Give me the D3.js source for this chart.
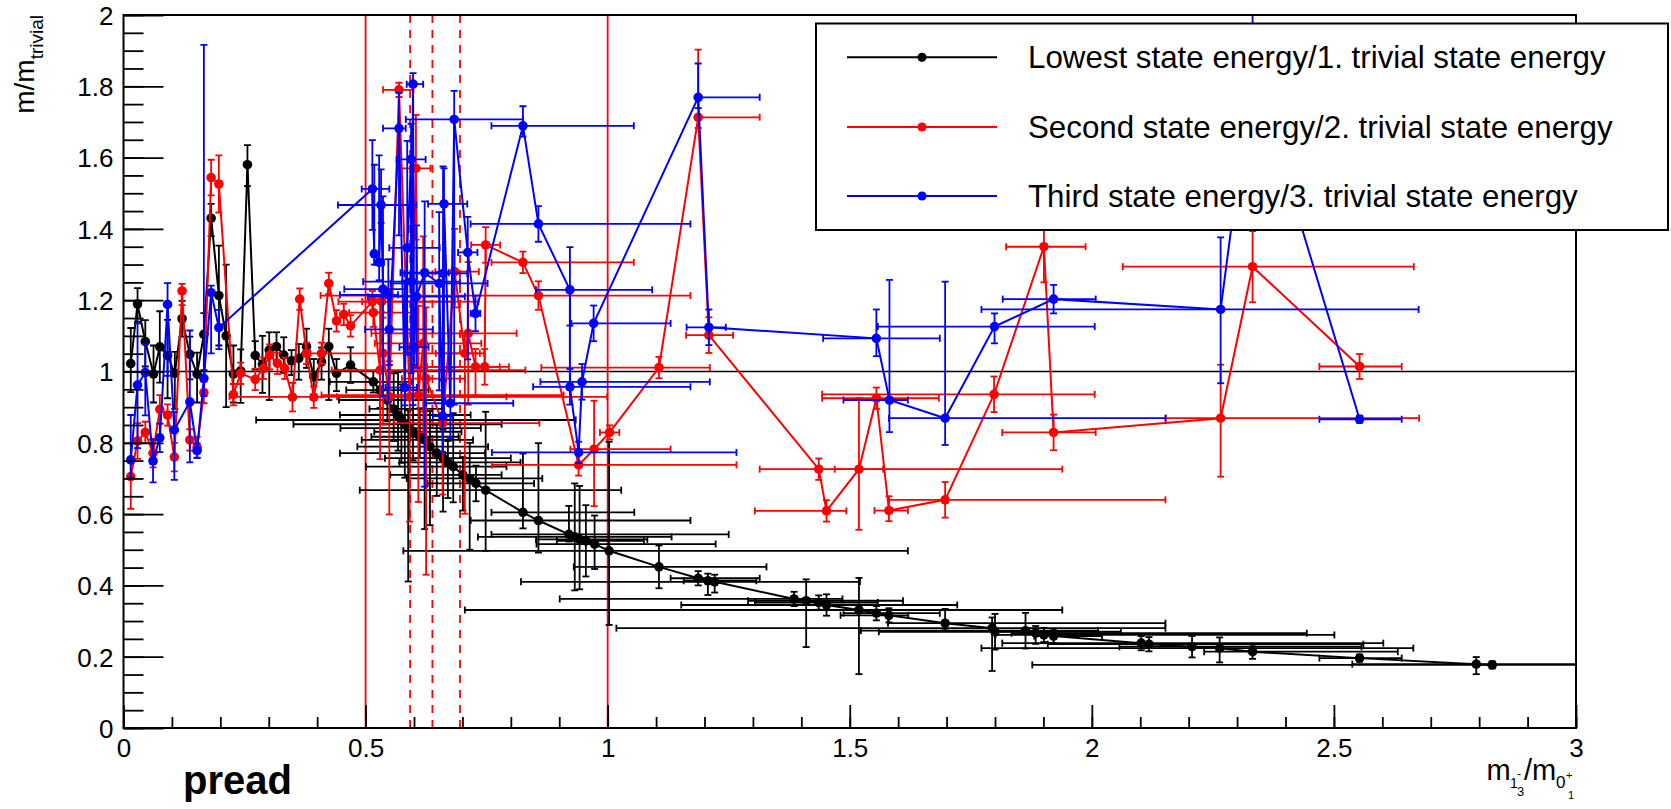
<!DOCTYPE html>
<html><head><meta charset="utf-8">
<script src="https://cdn.jsdelivr.net/npm/d3@7"></script>
<style>body{margin:0;background:#fff} svg{display:block} text{font-family:"Liberation Sans",Arial,Helvetica,sans-serif}</style>
</head><body><svg id="c" width="1671" height="809"></svg>
<script>
// [x, y, exLow, exHigh, eyLow, eyHigh]
const lowestPts = [
[0.015,1.022,0,0,0.08,0.10],[0.029,1.189,0,0,0.05,0.045],[0.045,1.084,0,0,0.07,0.06],[0.062,0.993,0,0,0.08,0.08],
[0.075,1.069,0,0,0.1,0.1],[0.091,1.045,0,0,0.12,0.1],[0.106,0.995,0,0,0.1,0.06],[0.121,1.148,0,0,0.05,0.05],
[0.137,1.048,0,0,0.07,0.05],[0.152,0.993,0,0,0.08,0.06],[0.166,1.104,0,0,0.1,0.06],[0.181,1.43,0,0,0.05,0.04],
[0.197,1.213,0,0,0.14,0.14],[0.212,1.1,0,0,0.2,0.2],[0.227,0.993,0,0,0.08,0.08],[0.242,1.002,0,0,0.09,0.06],
[0.256,1.58,0,0,0.06,0.055],[0.272,1.045,0,0,0.04,0.04],[0.287,1.02,0,0,0.08,0.08],[0.301,1.06,0,0,0.14,0.05],
[0.316,1.07,0,0,0.04,0.04],[0.331,1.046,0,0,0.05,0.05],[0.347,1.03,0,0,0.04,0.03],[0.362,1.037,0,0,0.06,0.04],
[0.378,1.07,0,0,0.06,0.05],[0.393,0.985,0,0,0.05,0.05],[0.409,1.027,0,0,0.05,0.04],[0.424,1.07,0,0,0.15,0.05],
[0.44,0.995,0,0,0.05,0.04],[0.469,1.018,0,0,0.05,0.05],
[0.516,0.971,0.09,0.08,0.03,0.03],[0.530,0.948,0.07,0.1,0.05,0.05],[0.545,0.92,0.10,0.12,0.06,0.05],
[0.558,0.895,0.05,0.1,0.09,0.1],[0.567,0.878,0.12,0.15,0.1,0.12],[0.574,0.864,0.30,0.36,0.12,0.1],
[0.581,0.852,0.23,0.2,0.15,0.1],[0.588,0.841,0.14,0.15,0.43,0.05],[0.598,0.831,0.08,0.1,0.08,0.1],
[0.612,0.817,0.1,0.08,0.06,0.08],[0.622,0.808,0.13,0.1,0.25,0.08],[0.633,0.789,0.15,0.12,0.22,0.1],
[0.647,0.771,0.2,0.1,0.12,0.08],[0.66,0.757,0.12,0.14,0.15,0.08],[0.67,0.745,0.1,0.15,0.1,0.06],
[0.681,0.733,0.18,0.11,0.1,0.15],[0.701,0.71,0.15,0.08,0.1,0.05],[0.715,0.70,0.13,0.15,0.2,0.1],
[0.728,0.686,0.1,0.12,0.05,0.05],[0.748,0.667,0.26,0.28,0.17,0.22],[0.825,0.605,0.065,0.23,0.045,0.165],
[0.857,0.582,0.14,0.314,0.09,0.217],[0.92,0.543,0.16,0.33,0.02,0.08],[0.932,0.536,0.2,0.2,0.15,0.15],
[0.942,0.529,0.09,0.14,0.14,0.15],[0.955,0.525,0.06,0.12,0.1,0.1],[0.973,0.516,0.12,0.25,0.07,0.08],
[1.003,0.497,0.425,0.617,0.208,0.306],[1.106,0.452,0.176,0.222,0.06,0.06],[1.187,0.42,0.057,0.127,0.02,0.02],
[1.207,0.413,0.05,0.1,0.04,0.02],[1.221,0.41,0.4,0.3,0.03,0.02],[1.385,0.362,0.484,0.1,0.02,0.02],
[1.41,0.357,0.12,0.2,0.13,0.06],[1.436,0.352,0.132,0.122,0.02,0.02],[1.452,0.345,0.3,0.27,0.03,0.03],
[1.519,0.331,0.814,0.42,0.18,0.09],[1.555,0.322,0.068,0.131,0.02,0.02],[1.581,0.316,0.1,0.04,0.02,0.02],
[1.697,0.294,0.118,0.455,0.02,0.04],[1.794,0.28,0.776,0.358,0.12,0.03],[1.80,0.27,0.24,0.26,0.05,0.05],
[1.863,0.273,0.34,0.15,0.05,0.05],[1.884,0.266,0.05,0.56,0.03,0.02],[1.901,0.261,0.1,0.6,0.02,0.02],
[1.921,0.258,0.04,0.1,0.02,0.02],[2.102,0.238,0.287,0.5,0.02,0.02],[2.118,0.235,0.209,0.443,0.02,0.02],
[2.207,0.228,0.15,0.35,0.03,0.03],[2.264,0.224,0.492,0.4,0.04,0.03],[2.332,0.214,0.1,0.3,0.02,0.02],
[2.553,0.196,0.083,0.087,0.01,0.01],[2.794,0.179,0.256,0.4,0.028,0.02],[2.827,0.177,0.95,0.4,0.01,0.01]
];
const secondPts = [
[0.015,0.705,0,0,0.09,0.042],[0.029,0.805,0,0,0.05,0.05],[0.045,0.829,0,0,0.03,0.03],[0.061,0.771,0,0,0.04,0.04],
[0.075,0.894,0,0,0.04,0.04],[0.091,0.878,0,0,0.03,0.03],[0.105,0.76,0,0,0.04,0.04],[0.121,1.226,0,0,0.04,0.02],
[0.137,0.808,0,0,0.03,0.03],[0.152,0.787,0,0,0.03,0.03],[0.166,0.941,0,0,0.03,0.03],[0.181,1.544,0,0,0.05,0.05],
[0.197,1.526,0,0,0.08,0.08],[0.227,0.935,0,0,0.03,0.03],[0.242,0.995,0,0,0.03,0.03],[0.272,0.978,0,0,0.03,0.03],
[0.289,1.009,0,0,0.03,0.03],[0.302,1.046,0,0,0.04,0.03],[0.318,1.023,0,0,0.03,0.03],[0.333,1.009,0,0,0.03,0.03],
[0.349,0.928,0,0,0.04,0.04],[0.364,1.203,0,0,0.03,0.03],[0.378,1.051,0,0,0.03,0.03],[0.393,0.928,0,0,0.03,0.03],
[0.409,1.051,0,0,0.03,0.03],[0.424,1.247,0,0,0.03,0.03],[0.44,1.142,0,0,0.03,0.03],[0.455,1.16,0,0,0.03,0.03],
[0.469,1.128,0,0,0.03,0.03],
[0.514,1.196,0.07,0.17,0.03,0.03],[0.516,1.165,0.05,0.08,0.04,0.04],[0.530,1.004,0.1,0.3,0.25,0.2],
[0.533,1.196,0.04,0.2,0.03,0.03],[0.536,1.051,0.15,0.2,0.2,0.1],[0.549,0.929,0.33,0.45,0.33,0.1],
[0.569,1.79,0.033,0.03,0.02,0.02],[0.591,0.929,0.15,0.2,0.35,0.15],[0.604,1.57,0.03,0.03,0.2,0.15],
[0.609,0.934,0.2,0.3,0.3,0.25],[0.619,1.079,0.1,0.12,0.25,0.3],[0.625,0.98,0.05,0.08,0.55,0.2],
[0.659,0.855,0.1,0.2,0.2,0.15],[0.684,1.28,0.04,0.05,0.1,0.12],[0.705,1.051,0.06,0.04,0.45,0.05],
[0.712,1.107,0.2,0.1,0.2,0.2],[0.727,1.013,0.1,0.05,0.08,0.05],[0.746,1.013,0.15,0.05,0.05,0.05],
[0.748,1.355,0.03,0.03,0.05,0.05],[0.825,1.306,0.065,0.229,0.03,0.03],[0.857,1.213,0.45,0.314,0.04,0.04],
[0.94,0.738,0.179,0.326,0.03,0.03],[0.972,0.782,0.049,0.158,0.16,0.136],[1.004,0.829,0.02,0.02,0.02,0.02],
[1.106,1.011,0.243,0.105,0.03,0.03],[1.187,1.713,0,0.127,0.03,0.19],[1.209,1.102,0.047,0.05,0.05,0.05],
[1.436,0.726,0.122,0.503,0.03,0.03],[1.452,0.609,0.148,0.041,0.03,0.03],[1.519,0.726,0.05,0.05,0.17,0.2],
[1.555,0.925,0.112,0.129,0.03,0.03],[1.581,0.61,0.03,0.039,0.03,0.04],[1.697,0.64,0.116,0.455,0.05,0.05],
[1.798,0.936,0.355,0.208,0.05,0.05],[1.901,1.35,0.078,0.086,0.1,0.1],[1.921,0.829,0.106,0.087,0.05,0.05],
[2.266,0.869,0.113,0.41,0.164,0.15],[2.332,1.294,0.268,0.333,0.1,0.1],[2.553,1.014,0.083,0.087,0.035,0.035]
];
const thirdPts = [
[0.015,0.752,0,0,0.05,0.126],[0.029,0.962,0,0,0.177,0.173],[0.045,0.997,0,0,0.12,0.08],[0.061,0.749,0,0,0.06,0.06],
[0.075,0.814,0,0,0.04,0.04],[0.091,1.188,0,0,0.2,0.06],[0.105,0.836,0,0,0.14,0.05],[0.137,0.915,0,0,0.17,0.2],
[0.152,0.778,0,0,0.02,0.02],[0.166,0.981,0,0,0.05,0.935],[0.181,1.221,0,0,0.17,0.02],[0.197,1.123,0,0,0.06,0.05],
[0.514,1.512,0.022,0.035,0.115,0.137],[0.518,1.33,0,0,0.03,0.25],[0.528,1.306,0.01,0.01,0.05,0.3],
[0.532,1.467,0.089,0.073,0.05,0.1],[0.536,1.231,0.08,0.05,0.3,0.26],[0.547,1.215,0.1,0.02,0.3,0.1],
[0.549,1.118,0.05,0.09,0.1,0.1],[0.569,1.682,0.033,0.014,0.3,0.1],[0.581,0.955,0.04,0.025,0.05,0.3],
[0.586,1.347,0.037,0.067,0.3,0.3],[0.594,1.595,0.03,0.03,0.6,0.1],[0.595,1.252,0.1,0.1,0.2,0.2],
[0.598,1.806,0.013,0.021,0.9,0.031],[0.600,1.068,0.03,0.03,0.05,0.05],[0.605,1.21,0.1,0.1,0.2,0.2],
[0.622,1.277,0.05,0.05,0.6,0.2],[0.652,1.247,0.1,0.1,0.3,0.2],[0.659,0.875,0.02,0.02,0.1,0.1],
[0.660,1.275,0.08,0.05,0.3,0.3],[0.662,1.47,0.033,0.048,0.6,0.1],[0.675,0.911,0.05,0.13,0.1,0.1],
[0.683,1.707,0.1,0.142,0.8,0.08],[0.711,1.334,0.02,0.02,0.3,0.1],[0.727,1.163,0.01,0.01,0.05,0.05],
[0.825,1.689,0.065,0.229,0.03,0.055],[0.857,1.414,0.14,0.314,0.05,0.05],[0.922,1.229,0.07,0.17,0.1,0.12],
[0.922,0.957,0.076,0.249,0.05,0.05],[0.94,0.773,0.179,0.326,0.03,0.03],[0.947,0.971,0.086,0.264,0.05,0.05],
[0.971,1.135,0.046,0.159,0.05,0.05],[1.187,1.769,0,0.127,0.03,0.095],[1.209,1.124,0.046,0.035,0.05,0.05],
[1.555,1.093,0.11,0.131,0.05,0.081],[1.582,0.92,0.095,0.038,0.09,0.337],[1.697,0.869,0.116,0.455,0.075,0.383],
[1.799,1.126,0.241,0.207,0.047,0.037],[1.921,1.203,0.105,0.087,0.04,0.04],[2.266,1.174,0.494,0.409,0.207,0.202],
[2.332,1.86,0.05,0.05,0.2,0.3],[2.553,0.866,0.083,0.087,0.01,0.01]
];
const solidLinesX = [0.5, 1.0];
const dashedLinesX = [0.592, 0.638, 0.695];
const referenceY = 1;
const xMajorTicks = [0, 0.5, 1, 1.5, 2, 2.5, 3];
const yMajorTicks = [0, 0.2, 0.4, 0.6, 0.8, 1, 1.2, 1.4, 1.6, 1.8, 2];
const legendLabels = ["Lowest state energy/1. trivial state energy","Second state energy/2. trivial state energy","Third state energy/3. trivial state energy"];
const seriesColors = ["#000000","#ff0000","#0000ff"];

const W=1671,H=809;
const x=d3.scaleLinear().domain([0,3]).range([123.5,1576]);
const y=d3.scaleLinear().domain([0,2]).range([728,15]);
const svg=d3.select("#c");
svg.append("rect").attr("width",W).attr("height",H).attr("fill","#fff");
svg.append("defs").append("clipPath").attr("id","clip").append("rect")
  .attr("x",x(0)).attr("y",y(2)).attr("width",x(3)-x(0)).attr("height",y(0)-y(2));
const plot=svg.append("g").attr("clip-path","url(#clip)");

plot.append("line").attr("x1",x(0)).attr("x2",x(3)).attr("y1",y(referenceY)).attr("y2",y(referenceY))
  .attr("stroke","#000").attr("stroke-width",1.6);
solidLinesX.forEach(v=>plot.append("line").attr("x1",x(v)).attr("x2",x(v)).attr("y1",y(0)).attr("y2",y(2))
  .attr("stroke","#ff0000").attr("stroke-width",1.8));
dashedLinesX.forEach(v=>plot.append("line").attr("x1",x(v)).attr("x2",x(v)).attr("y1",y(0)).attr("y2",y(2))
  .attr("stroke","#ff0000").attr("stroke-width",1.8).attr("stroke-dasharray","8,7"));

const CAP=3.5;
function drawGraph(pts,color){
  const g=plot.append("g").attr("stroke",color).attr("fill",color);
  const eb=g.append("g").attr("stroke-width",1.8);
  pts.forEach(p=>{
    const cx=x(p[0]), cy=y(p[1]);
    if(p[2]>0||p[3]>0){
      const xl=x(p[0]-p[2]), xh=x(p[0]+p[3]);
      eb.append("line").attr("x1",xl).attr("x2",xh).attr("y1",cy).attr("y2",cy);
      if(p[2]>0) eb.append("line").attr("x1",xl).attr("x2",xl).attr("y1",cy-CAP).attr("y2",cy+CAP);
      if(p[3]>0) eb.append("line").attr("x1",xh).attr("x2",xh).attr("y1",cy-CAP).attr("y2",cy+CAP);
    }
    if(p[4]>0||p[5]>0){
      const yl=y(p[1]-p[4]), yh=y(p[1]+p[5]);
      eb.append("line").attr("x1",cx).attr("x2",cx).attr("y1",yl).attr("y2",yh);
      if(p[4]>0) eb.append("line").attr("x1",cx-CAP).attr("x2",cx+CAP).attr("y1",yl).attr("y2",yl);
      if(p[5]>0) eb.append("line").attr("x1",cx-CAP).attr("x2",cx+CAP).attr("y1",yh).attr("y2",yh);
    }
  });
  g.append("path").datum(pts).attr("fill","none").attr("stroke-width",2)
    .attr("d",d3.line().x(d=>x(d[0])).y(d=>y(d[1])));
  g.selectAll("circle").data(pts).join("circle").attr("stroke","none")
    .attr("cx",d=>x(d[0])).attr("cy",d=>y(d[1])).attr("r",4.8);
}
drawGraph(lowestPts,seriesColors[0]);
drawGraph(secondPts,seriesColors[1]);
drawGraph(thirdPts,seriesColors[2]);

// axes
const fmt=d=>String(+d.toFixed(2));
const xMinor=d3.range(0,30.5).map(i=>i/10);
const yMinor=d3.range(0,40.5).map(i=>i/20);
const ax=svg.append("g").attr("transform",`translate(0,${y(0)})`);
ax.call(d3.axisBottom(x).tickValues(xMinor).tickSize(-11).tickFormat(""));
const axM=svg.append("g").attr("transform",`translate(0,${y(0)})`);
axM.call(d3.axisBottom(x).tickValues(xMajorTicks).tickSize(-23).tickPadding(11).tickFormat(fmt));
const ay=svg.append("g").attr("transform",`translate(${x(0)},0)`);
ay.call(d3.axisLeft(y).tickValues(yMinor).tickSize(-20).tickFormat(""));
const ayM=svg.append("g").attr("transform",`translate(${x(0)},0)`);
ayM.call(d3.axisLeft(y).tickValues(yMajorTicks).tickSize(-40).tickPadding(10).tickFormat(fmt));
[ax,axM,ay,ayM].forEach(g=>{g.select(".domain").remove();
  g.selectAll(".tick line").attr("stroke","#000").attr("stroke-width",1.8);
  g.selectAll("text").attr("font-size",26).attr("fill","#000").attr("font-family",'"Liberation Sans",Arial,sans-serif');});
ayM.selectAll("text").attr("dy","0.36em");
svg.append("rect").attr("x",x(0)).attr("y",y(2)).attr("width",x(3)-x(0)).attr("height",y(0)-y(2))
  .attr("fill","none").attr("stroke","#000").attr("stroke-width",2);

// y title
const yt=svg.append("text").attr("transform","translate(34,15) rotate(-90)").attr("text-anchor","end").attr("font-size",28);
yt.append("tspan").text("m/m");
yt.append("tspan").attr("font-size",19).attr("dy",9).text("trivial");
// x title
const xt=svg.append("g").attr("fill","#000");
[["m",1486.5,780,29],["1",1510,788,14],["-",1517,778,12],["3",1517,796,13],["/m",1524,780,29],["0",1556,788,17],["+",1566,779,11],["1",1568,799,11]]
  .forEach(t=>xt.append("text").attr("x",t[1]).attr("y",t[2]).attr("font-size",t[3]).text(t[0]));
svg.append("text").attr("x",183).attr("y",794).attr("font-size",40).attr("font-weight","bold").text("pread");

// legend
const lg=svg.append("g");
lg.append("rect").attr("x",816).attr("y",23.5).attr("width",1668-816).attr("height",230-23.5)
  .attr("fill","#fff").attr("stroke","#000").attr("stroke-width",2);
const rows=[57.3,127,196];
legendLabels.forEach((lab,i)=>{
  lg.append("line").attr("x1",847).attr("x2",997).attr("y1",rows[i]).attr("y2",rows[i]).attr("stroke",seriesColors[i]).attr("stroke-width",2);
  lg.append("circle").attr("cx",922).attr("cy",rows[i]).attr("r",4.6).attr("fill",seriesColors[i]);
  lg.append("text").attr("x",1028).attr("y",rows[i]+11).attr("font-size",31.3).text(lab);
});
</script></body></html>
